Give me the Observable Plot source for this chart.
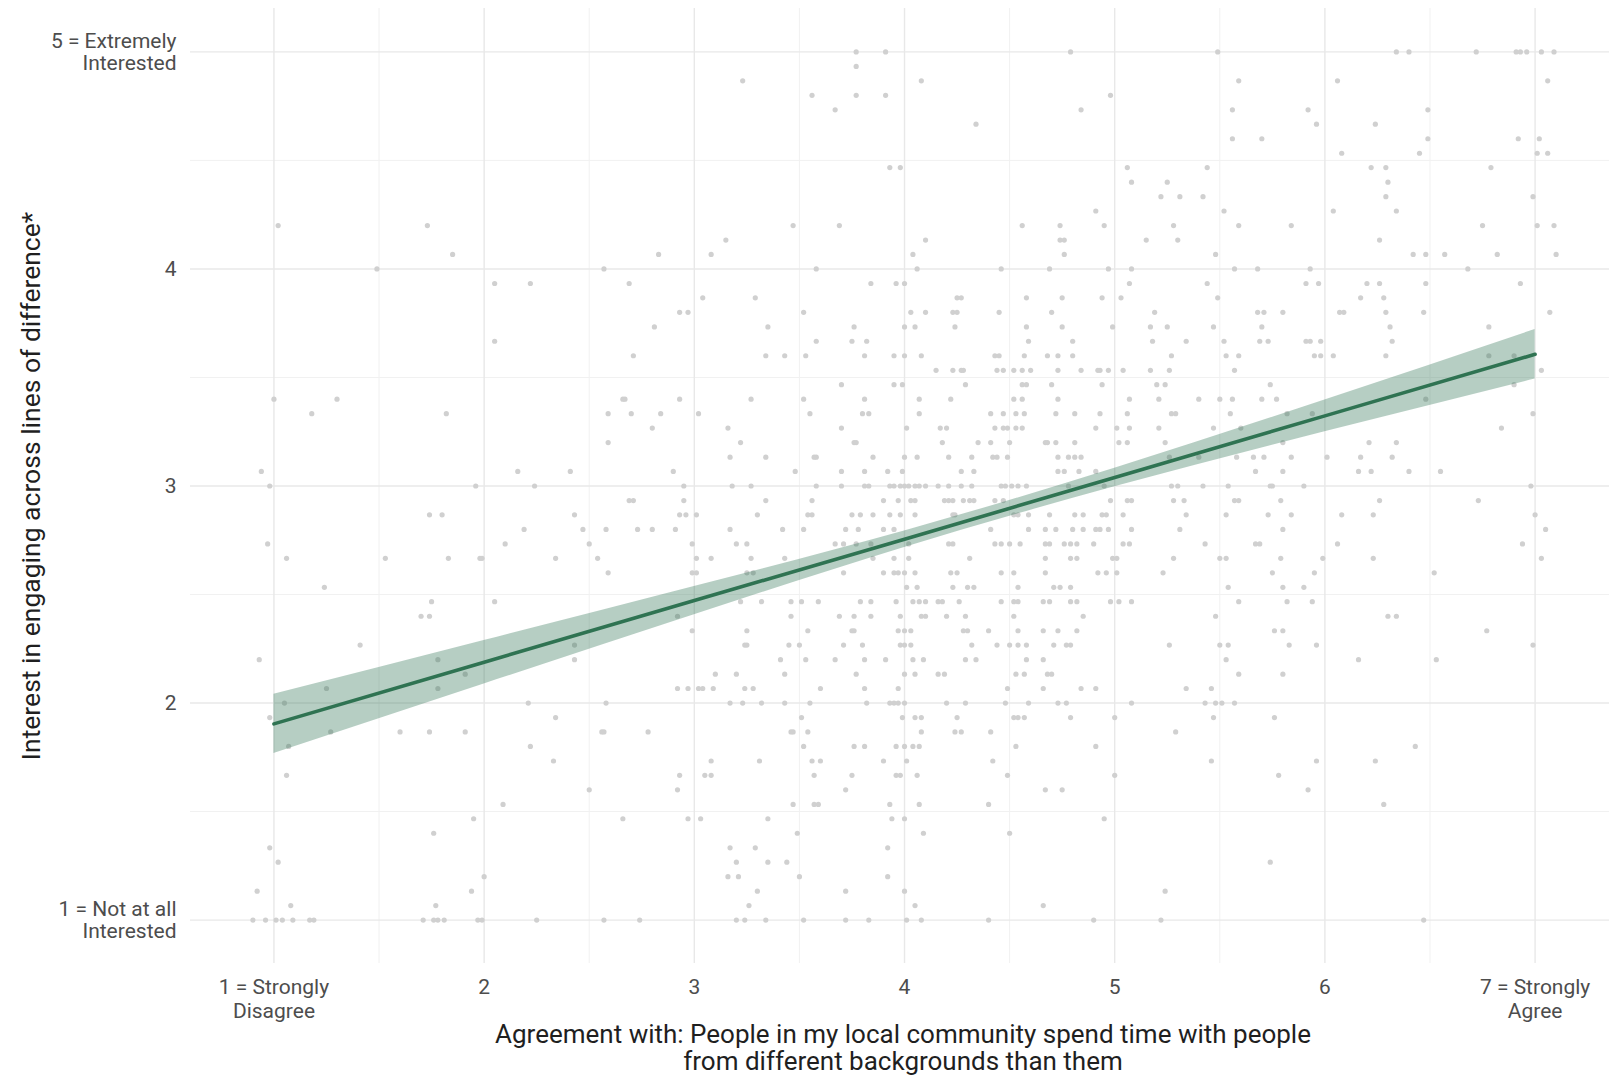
<!DOCTYPE html>
<html>
<head>
<meta charset="utf-8">
<script src="https://cdn.jsdelivr.net/npm/d3@7"></script>
<script src="https://cdn.jsdelivr.net/npm/@observablehq/plot@0.6"></script>
<style>
  html, body { margin: 0; padding: 0; background: #ffffff; }
  #chart svg { display: block; }
</style>
</head>
<body>
<div id="chart"></div>
<script>
// ---- Data ----
const yLevels = [5, 4.933, 4.867, 4.8, 4.733, 4.667, 4.6, 4.533, 4.467, 4.4, 4.333, 4.267, 4.2, 4.133, 4.067, 4,
  3.933, 3.867, 3.8, 3.733, 3.667, 3.6, 3.533, 3.467, 3.4, 3.333, 3.267, 3.2, 3.133, 3.067, 3,
  2.933, 2.867, 2.8, 2.733, 2.667, 2.6, 2.533, 2.467, 2.4, 2.333, 2.267, 2.2, 2.133, 2.067, 2,
  1.933, 1.867, 1.8, 1.733, 1.667, 1.6, 1.533, 1.467, 1.4, 1.333, 1.267, 1.2, 1.133, 1.067, 1];

const xByLevel = [
  [3.77, 3.91, 4.79, 5.49, 6.34, 6.40, 6.72, 6.91, 6.93, 6.96, 7.03, 7.09],
  [3.77],
  [3.23, 4.08, 5.59, 6.06, 7.06],
  [3.56, 3.77, 3.91, 4.98],
  [3.67, 4.84, 5.56, 5.92, 6.49],
  [4.34, 5.96, 6.24],
  [5.56, 5.70, 6.49, 6.92, 7.02],
  [6.08, 6.45, 7.01, 7.06],
  [3.93, 3.98, 5.06, 5.44, 6.22, 6.29, 6.79],
  [5.08, 5.25, 6.30],
  [5.22, 5.31, 5.42, 6.29, 6.99],
  [4.91, 5.52, 6.04, 6.34],
  [1.02, 1.73, 3.47, 3.69, 4.56, 4.74, 4.95, 5.28, 5.59, 5.84, 6.75, 7.01, 7.09],
  [3.15, 4.10, 4.74, 4.76, 5.15, 5.30, 6.26],
  [1.85, 2.83, 3.08, 4.04, 4.76, 5.48, 6.42, 6.48, 6.57, 6.82, 7.10],
  [1.49, 2.57, 3.58, 4.06, 4.46, 4.69, 4.97, 5.08, 5.57, 5.68, 5.93, 6.68],
  [2.05, 2.22, 2.69, 3.84, 3.96, 4.00, 5.07, 5.44, 5.91, 5.97, 6.20, 6.26, 6.48, 6.93],
  [3.04, 3.29, 4.25, 4.27, 4.58, 4.75, 4.94, 5.03, 5.49, 6.17, 6.28],
  [2.93, 2.97, 3.52, 4.03, 4.10, 4.23, 4.25, 4.45, 4.70, 5.19, 5.68, 5.71, 5.80, 6.07, 6.09, 6.29, 6.47, 7.07],
  [2.81, 3.35, 3.76, 4.00, 4.05, 4.24, 4.58, 4.75, 4.99, 5.17, 5.25, 5.47, 5.70, 6.31, 6.78],
  [2.05, 3.58, 3.75, 3.82, 4.59, 4.80, 5.18, 5.34, 5.52, 5.69, 5.73, 5.91, 5.93, 5.98, 6.32],
  [2.71, 3.34, 3.43, 3.53, 3.81, 3.95, 4.00, 4.08, 4.43, 4.45, 4.57, 4.68, 4.73, 4.80, 5.27, 5.53, 5.59, 5.95, 5.98, 6.04, 6.29, 6.78, 6.90],
  [4.15, 4.23, 4.27, 4.28, 4.44, 4.47, 4.52, 4.56, 4.60, 4.73, 4.84, 4.92, 4.93, 4.97, 5.04, 5.17, 5.26, 5.57, 7.03],
  [3.70, 3.95, 3.99, 4.29, 4.56, 4.58, 4.70, 4.94, 5.20, 5.24, 5.74, 6.90],
  [1.00, 1.30, 2.66, 2.67, 2.93, 3.27, 3.52, 3.81, 4.07, 4.22, 4.52, 4.56, 4.73, 5.07, 5.21, 5.40, 5.50, 5.56, 5.70, 5.77, 6.48],
  [1.18, 1.82, 2.59, 2.70, 2.84, 3.02, 3.55, 3.80, 3.83, 4.07, 4.41, 4.47, 4.53, 4.57, 4.72, 4.81, 4.93, 5.06, 5.27, 5.29, 5.55, 5.82, 5.94, 6.99],
  [2.80, 3.16, 3.70, 4.01, 4.17, 4.20, 4.43, 4.47, 4.49, 4.53, 4.56, 4.91, 5.01, 5.07, 5.21, 5.47, 5.60, 6.84],
  [2.59, 3.22, 3.76, 3.77, 4.18, 4.35, 4.41, 4.50, 4.67, 4.68, 4.72, 4.81, 5.02, 5.06, 5.24, 5.80, 6.21, 6.34],
  [3.17, 3.34, 3.57, 3.58, 3.85, 4.00, 4.06, 4.21, 4.32, 4.42, 4.44, 4.49, 4.73, 4.78, 4.81, 4.84, 5.26, 5.40, 5.58, 5.66, 5.71, 5.84, 6.01, 6.17, 6.32],
  [0.94, 2.16, 2.41, 2.90, 3.48, 3.70, 3.81, 3.92, 3.99, 4.27, 4.33, 4.73, 4.76, 4.83, 4.91, 5.67, 5.80, 6.16, 6.22, 6.40, 6.55],
  [0.98, 1.96, 2.24, 2.95, 3.18, 3.27, 3.58, 3.70, 3.81, 3.83, 3.93, 3.95, 3.98, 4.00, 4.02, 4.05, 4.07, 4.10, 4.16, 4.21, 4.27, 4.32, 4.46, 4.48, 4.51, 4.54, 4.58, 4.78, 4.95, 5.27, 5.30, 5.42, 5.54, 5.74, 5.75, 5.90, 6.98],
  [2.69, 2.71, 2.95, 3.34, 3.56, 3.90, 3.97, 4.03, 4.05, 4.19, 4.21, 4.23, 4.28, 4.31, 4.33, 4.43, 4.47, 4.98, 5.06, 5.08, 5.28, 5.33, 5.57, 5.59, 5.79, 6.26, 6.73],
  [1.74, 1.80, 2.43, 2.93, 2.96, 3.01, 3.30, 3.54, 3.56, 3.75, 3.79, 3.85, 3.93, 3.98, 4.05, 4.23, 4.24, 4.52, 4.54, 4.59, 4.69, 4.81, 4.85, 4.94, 4.96, 5.04, 5.34, 5.53, 5.73, 5.84, 6.08, 6.23, 7.00],
  [2.19, 2.47, 2.58, 2.73, 2.80, 2.91, 3.17, 3.42, 3.52, 3.72, 3.78, 3.90, 3.95, 4.41, 4.59, 4.67, 4.72, 4.80, 4.85, 4.91, 4.93, 4.97, 5.08, 5.31, 5.80, 7.05],
  [0.97, 2.10, 2.50, 2.99, 3.20, 3.25, 3.67, 3.71, 3.77, 3.84, 4.02, 4.21, 4.23, 4.43, 4.46, 4.50, 4.55, 4.67, 4.69, 4.76, 4.79, 4.82, 4.90, 5.04, 5.07, 5.43, 5.67, 5.69, 6.06, 6.94],
  [1.06, 1.53, 1.83, 1.98, 1.99, 2.34, 2.54, 3.01, 3.08, 3.27, 3.43, 3.85, 3.95, 4.02, 4.31, 4.67, 4.79, 4.82, 4.99, 5.01, 5.28, 5.50, 5.53, 5.79, 5.99, 6.23, 7.03],
  [2.59, 2.99, 3.01, 3.25, 3.28, 3.71, 3.90, 3.95, 3.97, 4.00, 4.05, 4.22, 4.25, 4.46, 4.52, 4.67, 4.92, 4.96, 5.01, 5.23, 5.75, 5.95, 6.52],
  [1.24, 4.01, 4.06, 4.23, 4.30, 4.33, 4.54, 4.71, 4.74, 4.79, 5.54, 5.80, 5.90],
  [1.75, 2.05, 3.22, 3.32, 3.46, 3.51, 3.59, 3.79, 3.84, 3.96, 4.04, 4.07, 4.10, 4.16, 4.18, 4.26, 4.46, 4.52, 4.54, 4.66, 4.69, 4.79, 4.82, 4.98, 5.02, 5.08, 5.59, 5.82, 5.94],
  [1.70, 1.74, 2.92, 3.46, 3.69, 3.76, 3.84, 3.98, 4.08, 4.10, 4.20, 4.29, 4.52, 4.85, 5.48, 6.30, 6.34],
  [2.99, 3.25, 3.54, 3.75, 3.76, 3.97, 4.00, 4.03, 4.28, 4.30, 4.40, 4.54, 4.66, 4.73, 4.82, 5.76, 5.80, 6.77],
  [1.41, 2.43, 3.24, 3.25, 3.45, 3.50, 3.71, 3.80, 3.98, 4.00, 4.03, 4.32, 4.44, 4.50, 4.54, 4.58, 4.71, 4.77, 4.79, 5.26, 5.50, 5.54, 5.83, 5.96, 6.99],
  [0.93, 1.78, 2.43, 3.41, 3.53, 3.67, 3.81, 3.91, 4.04, 4.09, 4.29, 4.34, 4.58, 4.66, 5.53, 6.16, 6.53],
  [1.91, 3.10, 3.20, 3.43, 3.77, 4.00, 4.05, 4.16, 4.19, 4.53, 4.57, 4.68, 4.70, 5.59, 5.80],
  [1.25, 1.78, 2.92, 2.97, 3.02, 3.04, 3.09, 3.24, 3.28, 3.60, 3.81, 3.97, 4.49, 4.66, 4.84, 4.91, 5.34, 5.46],
  [1.05, 2.21, 2.58, 3.17, 3.23, 3.32, 3.43, 3.55, 3.82, 3.93, 3.95, 3.97, 4.00, 4.20, 4.29, 4.48, 4.59, 4.73, 4.77, 5.08, 5.43, 5.48, 5.51, 5.57],
  [0.98, 2.34, 3.51, 3.99, 4.05, 4.08, 4.25, 4.52, 4.54, 4.57, 4.79, 5.00, 5.47, 5.76],
  [1.27, 1.60, 1.74, 1.91, 2.56, 2.57, 2.78, 3.46, 3.47, 3.54, 4.08, 4.24, 4.27, 4.41, 5.29],
  [1.07, 2.22, 3.52, 3.76, 3.81, 3.96, 4.00, 4.04, 4.07, 4.53, 4.91, 6.43],
  [2.33, 3.08, 3.31, 3.56, 3.60, 3.90, 4.01, 4.42, 5.46, 5.96, 6.24],
  [1.06, 2.93, 3.05, 3.08, 3.57, 3.75, 3.96, 3.98, 4.06, 4.49, 5.00, 5.78],
  [2.50, 2.92, 3.72, 4.67, 4.75, 5.92],
  [2.09, 3.47, 3.57, 3.59, 3.93, 4.07, 4.40, 6.28],
  [1.95, 2.66, 2.97, 3.03, 3.35, 3.94, 4.00, 4.95],
  [1.76, 3.49, 4.09, 4.50],
  [0.98, 3.17, 3.29, 3.92],
  [1.02, 3.20, 3.35, 3.44, 5.74],
  [2.00, 3.16, 3.21, 3.50, 3.92],
  [0.92, 1.94, 3.30, 3.72, 4.00, 5.24],
  [1.08, 1.77, 3.26, 4.05, 4.66],
  [0.90, 0.96, 1.01, 1.04, 1.09, 1.17, 1.19, 1.71, 1.76, 1.78, 1.81, 1.97, 1.99, 2.25, 2.57, 2.74, 3.20, 3.24, 3.34, 3.52, 3.72, 3.83, 4.01, 4.08, 4.40, 4.90, 5.22, 6.47]
];

// fitted line and 95% band
const fitX  = [1, 2, 3, 4, 5, 6, 7];
const fitY  = [1.904, 2.188, 2.472, 2.755, 3.039, 3.323, 3.607];
const fitLo = [1.768, 2.088, 2.407, 2.717, 2.996, 3.250, 3.493];
const fitHi = [2.040, 2.288, 2.537, 2.793, 3.082, 3.396, 3.721];

const xTicks = [1, 2, 3, 4, 5, 6, 7];
const xTickLabels = ["1 = Strongly\nDisagree", "2", "3", "4", "5", "6", "7 = Strongly\nAgree"];
const xMinor = [1.5, 2.5, 3.5, 4.5, 5.5, 6.5];
const yTicks = [1, 2, 3, 4, 5];
const yTickLabels = ["1 = Not at all\nInterested", "2", "3", "4", "5 = Extremely\nInterested"];
const yMinor = [1.5, 2.5, 3.5, 4.5];

const xTitle = "Agreement with: People in my local community spend time with people\nfrom different backgrounds than them";
const yTitle = "Interest in engaging across lines of difference*";

// ---- Build ----
const points = yLevels.flatMap((y, i) => xByLevel[i].map(x => ({x, y})));
const fit = fitX.map((x, i) => ({x, y: fitY[i], lo: fitLo[i], hi: fitHi[i]}));

const green = "#2f7352";

const chart = Plot.plot({
  width: 1609,
  height: 1079,
  marginTop: 8,
  marginBottom: 116,
  marginLeft: 190,
  marginRight: 0,
  style: {fontFamily: "Roboto, 'Noto Sans', sans-serif", background: "#ffffff", color: "#4d4d4d"},
  x: {domain: [0.603, 7.354]},
  y: {domain: [0.8, 5.2]},
  marks: [
    Plot.gridX(xMinor, {stroke: "#f1f1f1", strokeOpacity: 1, strokeWidth: 1}),
    Plot.gridY(yMinor, {stroke: "#f1f1f1", strokeOpacity: 1, strokeWidth: 1}),
    Plot.gridX(xTicks, {stroke: "#e8e8e8", strokeOpacity: 1, strokeWidth: 1.4}),
    Plot.gridY(yTicks, {stroke: "#e8e8e8", strokeOpacity: 1, strokeWidth: 1.4}),
    Plot.dot(points, {x: "x", y: "y", r: 2.6, fill: "#d0d0d0", stroke: "none"}),
    Plot.areaY(fit, {x: "x", y1: "lo", y2: "hi", fill: green, fillOpacity: 0.35, curve: "natural"}),
    Plot.line(fit, {x: "x", y: "y", stroke: green, strokeWidth: 3.6}),
    Plot.axisX(xTicks, {
      tickSize: 0, tickPadding: 14, label: null,
      tickFormat: d => xTickLabels[xTicks.indexOf(d)],
      fontSize: 21, lineHeight: 1.12, fill: "#4d4d4d"
    }),
    Plot.axisY(yTicks, {
      tickSize: 0, tickPadding: 14, label: null,
      tickFormat: d => yTickLabels[yTicks.indexOf(d)],
      fontSize: 21, lineHeight: 1.03, fill: "#4d4d4d"
    }),
    Plot.text([xTitle], {
      frameAnchor: "bottom", dy: 60, dx: 3, lineAnchor: "top",
      fontSize: 26, lineHeight: 1.05, fill: "#1f1f1f"
    }),
    Plot.text([yTitle], {
      frameAnchor: "left", dx: -159, rotate: -90, textAnchor: "middle",
      fontSize: 26.5, fill: "#1f1f1f"
    })
  ]
});

document.getElementById("chart").appendChild(chart);
</script>
</body>
</html>
